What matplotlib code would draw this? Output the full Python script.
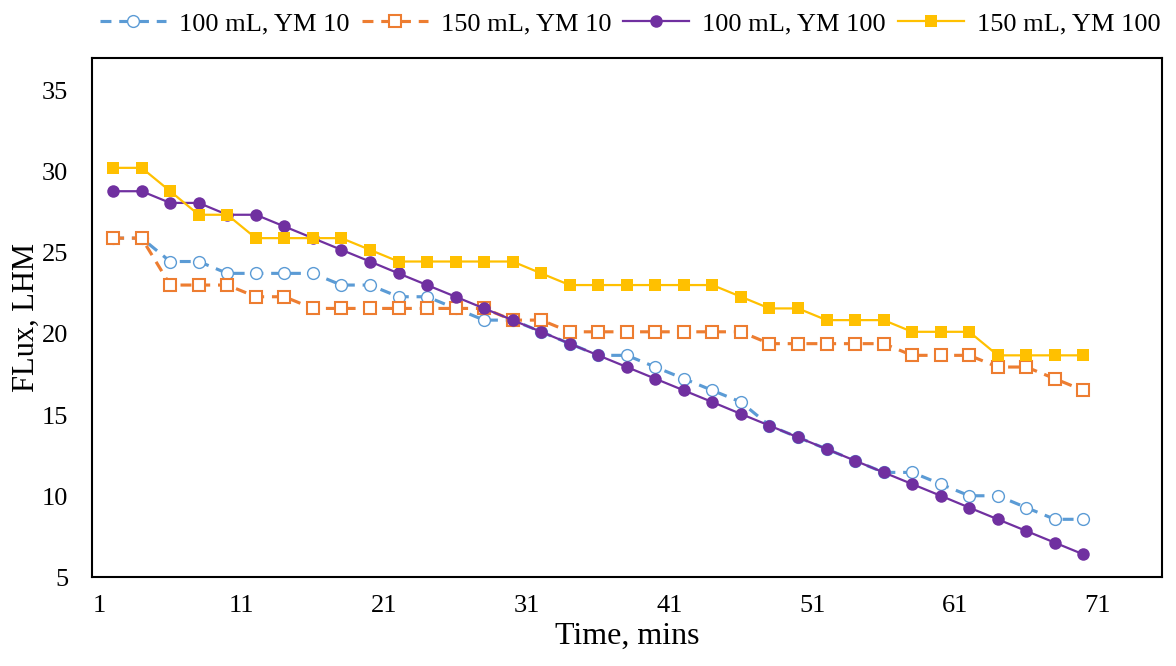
import matplotlib
matplotlib.use("Agg")
import matplotlib.pyplot as plt

# =============================================================================
# Data : flux readings every 2 minutes
# =============================================================================

time_mins = list(range(2, 71, 2))

flux_100_ym10 = [25.90, 25.90, 24.46, 24.46, 23.73, 23.73, 23.73, 23.73, 23.01, 23.01,
                 22.29, 22.29, 21.57, 20.85, 20.85, 20.13, 19.40, 18.68, 18.68, 17.96,
                 17.24, 16.52, 15.80, 14.35, 13.63, 12.91, 12.19, 11.47, 11.47, 10.75,
                 10.03, 10.03, 9.30, 8.58, 8.58]

flux_150_ym10 = [25.90, 25.90, 23.01, 23.01, 23.01, 22.29, 22.29, 21.57, 21.57, 21.57,
                 21.57, 21.57, 21.57, 21.57, 20.85, 20.85, 20.13, 20.13, 20.13, 20.13,
                 20.13, 20.13, 20.13, 19.40, 19.40, 19.40, 19.40, 19.40, 18.68, 18.68,
                 18.68, 17.96, 17.96, 17.24, 16.52]

flux_100_ym100 = [28.79, 28.79, 28.07, 28.07, 27.34, 27.34, 26.62, 25.90, 25.18, 24.46,
                  23.73, 23.01, 22.29, 21.57, 20.85, 20.13, 19.40, 18.68, 17.96, 17.24,
                  16.52, 15.80, 15.07, 14.35, 13.63, 12.91, 12.19, 11.47, 10.75, 10.03,
                  9.30, 8.58, 7.86, 7.14, 6.42]

flux_150_ym100 = [30.23, 30.23, 28.79, 27.34, 27.34, 25.90, 25.90, 25.90, 25.90, 25.18,
                  24.46, 24.46, 24.46, 24.46, 24.46, 23.73, 23.01, 23.01, 23.01, 23.01,
                  23.01, 23.01, 22.29, 21.57, 21.57, 20.85, 20.85, 20.85, 20.13, 20.13,
                  20.13, 18.68, 18.68, 18.68, 18.68]

x_ticks = [1, 11, 21, 31, 41, 51, 61, 71]
y_ticks = [5, 10, 15, 20, 25, 30, 35]

# =============================================================================
# Style
# =============================================================================

plt.rcParams["font.family"] = ["Liberation Serif", "DejaVu Serif"]

BLUE = "#5B9BD5"
ORANGE = "#ED7D31"
PURPLE = "#7030A0"
GOLD = "#FFC000"

DASH = (0, (3.5, 2.5))

# =============================================================================
# Chart
# =============================================================================

fig = plt.figure(figsize=(11.76, 6.66), dpi=100)
ax = fig.add_axes([0.078, 0.133, 0.910, 0.780])

ax.plot(time_mins, flux_100_ym10, color=BLUE, lw=2.25, linestyle=DASH,
        marker="o", markersize=8.5, markerfacecolor="white",
        markeredgecolor=BLUE, markeredgewidth=1.0, label="100 mL, YM 10")

ax.plot(time_mins, flux_150_ym10, color=ORANGE, lw=2.25, linestyle=DASH,
        marker="s", markersize=8.5, markerfacecolor="white",
        markeredgecolor=ORANGE, markeredgewidth=1.5, label="150 mL, YM 10")

ax.plot(time_mins, flux_100_ym100, color=PURPLE, lw=1.6,
        marker="o", markersize=9, markeredgewidth=0,
        label="100 mL, YM 100")

ax.plot(time_mins, flux_150_ym100, color=GOLD, lw=1.6,
        marker="s", markersize=9, markeredgewidth=0,
        label="150 mL, YM 100")

ax.set_xlim(0.5, 75.5)
ax.set_ylim(5, 37)
ax.set_xticks(x_ticks)
ax.set_yticks(y_ticks)
ax.tick_params(length=0, labelsize=19, pad=13)
ax.tick_params(axis="y", pad=17)

for spine in ax.spines.values():
    spine.set_linewidth(1.5)
    spine.set_color("black")

ax.set_xlabel("Time, mins", fontsize=23, labelpad=3)
ax.set_ylabel("FLux, LHM", fontsize=22, labelpad=1)

fig.legend(loc="upper center", bbox_to_anchor=(0.536, 1.018), ncol=4,
           frameon=False, fontsize=19, handlelength=2.5,
           handletextpad=0.5, columnspacing=0.45)

fig.savefig("out.png", dpi=100)
plt.close(fig)
